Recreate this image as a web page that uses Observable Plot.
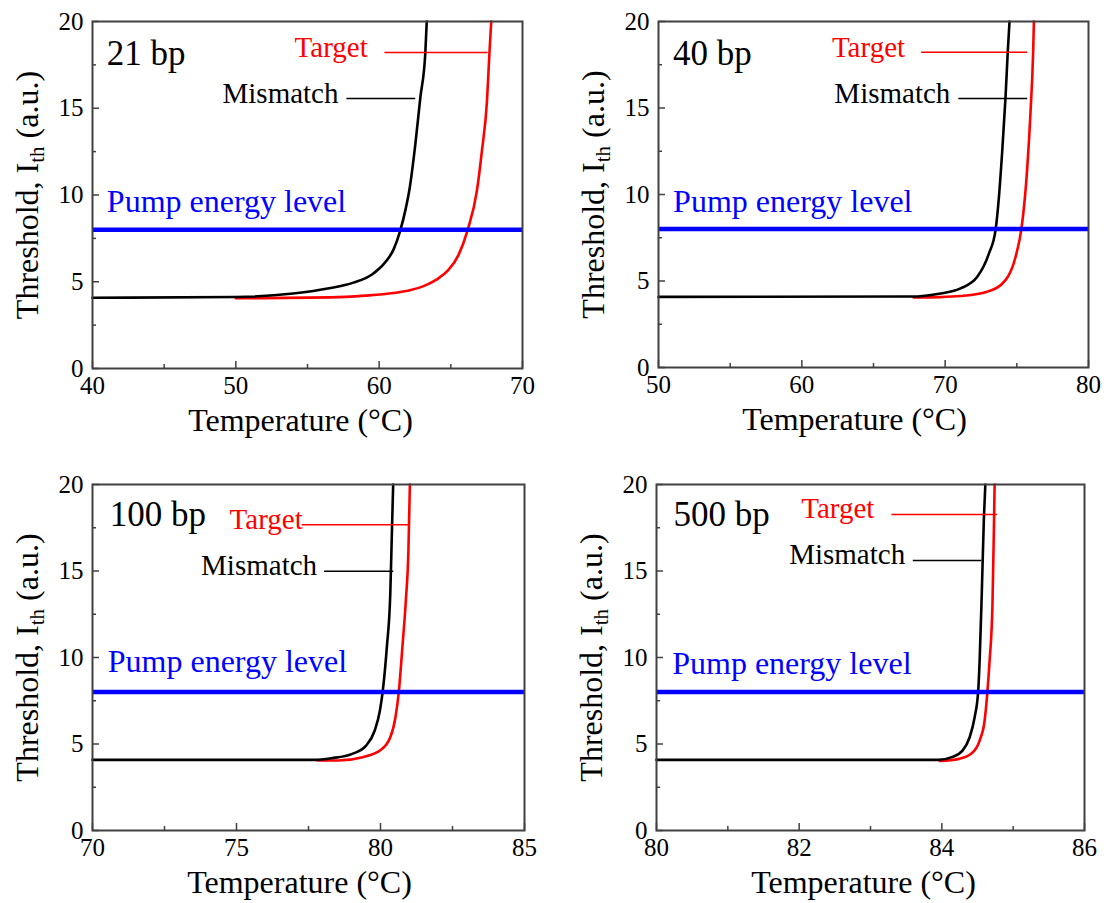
<!DOCTYPE html>
<html>
<head>
<meta charset="utf-8">
<script src="https://cdn.jsdelivr.net/npm/d3@7"></script>
<script src="https://cdn.jsdelivr.net/npm/@observablehq/plot@0.6"></script>
<style>
  html, body { margin: 0; padding: 0; background: #fff; }
  #wrap { position: relative; width: 1109px; height: 903px; background: #fff; overflow: hidden; }
  #wrap > div { position: absolute; }
  svg text, svg tspan { font-family: "Liberation Serif", "Times New Roman", serif !important; }
</style>
</head>
<body>
<div id="wrap"></div>
<script>
// ---------- data ----------
const panelLabels = ["21 bp", "40 bp", "100 bp", "500 bp"];
const xDomains = [[40, 70], [50, 80], [70, 85], [80, 86]];
const xMajorTicks = [[40, 50, 60, 70], [50, 60, 70, 80], [70, 75, 80, 85], [80, 82, 84, 86]];
const xMinorTicks = [[45, 55, 65], [55, 65, 75], [72.5, 77.5, 82.5], [81, 83, 85]];
const yMajorTicks = [0, 5, 10, 15, 20];
const yMinorTicks = [2.5, 7.5, 12.5, 17.5];
const pumpLevel = 8;

// Mismatch (black) and Target (red) threshold curves: temperature (°C) and threshold (a.u.)
const mm21T = [40, 50, 54, 56.5, 58.2, 59.5, 60.4, 61.0, 61.47, 61.85, 62.13, 62.52, 62.87, 63.22, 63.32];
const mm21I = [4.08, 4.12, 4.32, 4.62, 4.95, 5.42, 6.1, 6.85, 7.95, 9.2, 10.4, 12.9, 15.6, 18.2, 20];
const tg21T = [50, 56.6, 59, 61, 62.2, 63.1, 64, 64.8, 65.54, 66.17, 66.82, 67.17, 67.52, 67.7, 67.82];
const tg21I = [4.05, 4.1, 4.2, 4.35, 4.52, 4.75, 5.12, 5.65, 6.55, 7.98, 10.25, 12.55, 15.4, 18.3, 20];

const mm40T = [50, 67.59, 69.68, 71.07, 72.24, 73.05, 73.52, 73.75, 73.98, 74.21, 74.37, 74.49];
const mm40I = [4.08, 4.1, 4.28, 4.57, 5.24, 6.58, 7.97, 9.85, 12.5, 15.6, 18.3, 20];
const tg40T = [67.8, 69.68, 71.07, 72.93, 74.21, 74.91, 75.31, 75.45, 75.73, 75.96, 76.14, 76.19];
const tg40I = [4.05, 4.07, 4.13, 4.38, 5.05, 6.39, 7.97, 8.89, 11.58, 14.85, 18.3, 20];

const mm100T = [70, 77.7, 78.3, 79.02, 79.5, 79.8, 79.98, 80.08, 80.22, 80.34, 80.4, 80.44];
const mm100I = [4.08, 4.08, 4.18, 4.43, 4.91, 5.78, 6.94, 8.09, 10.6, 13.7, 17.5, 20];
const tg100T = [77.8, 78.54, 79.38, 79.98, 80.34, 80.52, 80.64, 80.76, 80.88, 80.97, 81.02];
const tg100I = [4.05, 4.05, 4.24, 4.62, 5.39, 6.55, 8.09, 10.6, 13.3, 16.2, 20];

const mm500T = [80, 83.95, 84.14, 84.29, 84.39, 84.46, 84.51, 84.53, 84.56, 84.59, 84.61];
const mm500I = [4.08, 4.08, 4.24, 4.62, 5.39, 6.55, 8.09, 9.83, 13.7, 18.1, 20];
const tg500T = [83.97, 84.24, 84.41, 84.53, 84.6, 84.64, 84.67, 84.71, 84.73, 84.74];
const tg500I = [4.02, 4.14, 4.43, 5.2, 6.36, 8.09, 9.83, 13.1, 17.5, 20];

const mismatchT = [mm21T, mm40T, mm100T, mm500T];
const mismatchI = [mm21I, mm40I, mm100I, mm500I];
const targetT = [tg21T, tg40T, tg100T, tg500T];
const targetI = [tg21I, tg40I, tg100I, tg500I];

// annotation anchor positions (data coordinates)
const labelPosT = [41.0, 51.02, 70.6, 80.24];
const labelPosI = [17.5, 17.5, 17.63, 17.63];
const pumpTextT = [41.0, 51.02, 70.53, 80.22];
const pumpTextI = [9.0, 9.0, 9.15, 9.06];
const targetTextT = [54.1, 62.1, 74.76, 82.03];
const targetTextI = [17.93, 17.92, 17.44, 18.07];
const targetLineT1 = [60.4, 68.36, 77.28, 83.30];
const targetLineT2 = [67.6, 75.76, 81.0, 84.78];
const targetLineI = [18.22, 18.22, 17.67, 18.27];
const mismatchTextT = [49.07, 62.27, 73.77, 81.86];
const mismatchTextI = [15.28, 15.29, 14.74, 15.41];
const mismatchLineT1 = [57.75, 70.95, 78.06, 83.6];
const mismatchLineT2 = [62.55, 75.76, 80.46, 84.56];
const mismatchLineI = [15.56, 15.55, 14.99, 15.61];

const xTitle = "Temperature (°C)";
const yTitle = "Threshold, Ith (a.u.)";
const targetText = "Target";
const mismatchText = "Mismatch";
const pumpText = "Pump energy level";

// ---------- layout ----------
const layout = [
  {left: 0,   top: 0,   width: 554, height: 451, mL: 92,  mR: 32, mT: 21, mB: 83, tdx: -7},
  {left: 554, top: 0,   width: 555, height: 451, mL: 104, mR: 21, mT: 21, mB: 84, tdx: -19},
  {left: 0,   top: 451, width: 554, height: 452, mL: 92,  mR: 30, mT: 33, mB: 73, tdx: -9},
  {left: 554, top: 451, width: 555, height: 452, mL: 102, mR: 25, mT: 33, mB: 73, tdx: -7}
];

const FRAME = "#404040";
const SERIF = "Liberation Serif";
const ns = "http://www.w3.org/2000/svg";
const wrap = document.getElementById("wrap");

function tspan(text, attrs = {}) {
  const t = document.createElementNS(ns, "tspan");
  t.textContent = text;
  for (const k in attrs) t.setAttribute(k, attrs[k]);
  return t;
}

layout.forEach((L, i) => {
  const plotW = L.width - L.mL - L.mR;
  const plotH = L.height - L.mT - L.mB;
  const mm = mismatchT[i].map((t, j) => ({T: t, I: mismatchI[i][j]}));
  const tg = targetT[i].map((t, j) => ({T: t, I: targetI[i][j]}));

  const chart = Plot.plot({
    width: L.width,
    height: L.height,
    marginLeft: L.mL, marginRight: L.mR, marginTop: L.mT, marginBottom: L.mB,
    style: {fontFamily: SERIF, fontSize: "25px", color: "#000", background: "transparent"},
    x: {domain: xDomains[i]},
    y: {domain: [0, 20]},
    marks: [
      Plot.axisX(xMajorTicks[i], {tickSize: 0, tickPadding: 8, label: null, fontSize: 25, fontFamily: SERIF, tickFormat: d => String(d)}),
      Plot.axisY(yMajorTicks, {tickSize: 0, tickPadding: 9, label: null, fontSize: 25, fontFamily: SERIF, tickFormat: d => String(d)}),
      // inward ticks
      Plot.tickX(xMajorTicks[i], {x: d => d, insetTop: plotH - 7, stroke: FRAME, strokeWidth: 1.5}),
      Plot.tickX(xMinorTicks[i], {x: d => d, insetTop: plotH - 4, stroke: FRAME, strokeWidth: 1.5}),
      Plot.tickY(yMajorTicks, {y: d => d, insetRight: plotW - 7, stroke: FRAME, strokeWidth: 1.5}),
      Plot.tickY(yMinorTicks, {y: d => d, insetRight: plotW - 4, stroke: FRAME, strokeWidth: 1.5}),
      // curves
      Plot.line(tg, {x: "T", y: "I", stroke: "#ff0000", strokeWidth: 2.6, curve: "monotone-x"}),
      Plot.line(mm, {x: "T", y: "I", stroke: "#000000", strokeWidth: 2.6, curve: "monotone-x"}),
      // pump level
      Plot.ruleY([pumpLevel], {stroke: "#0000ff", strokeWidth: 4.5}),
      // legend leader lines
      Plot.ruleY([targetLineI[i]], {x1: targetLineT1[i], x2: targetLineT2[i], stroke: "#ff0000", strokeWidth: 1.5}),
      Plot.ruleY([mismatchLineI[i]], {x1: mismatchLineT1[i], x2: mismatchLineT2[i], stroke: "#000000", strokeWidth: 1.5}),
      // texts
      Plot.text([panelLabels[i]], {x: labelPosT[i], y: labelPosI[i], text: d => d, textAnchor: "start", lineAnchor: "bottom", fontSize: 35, fill: "#000"}),
      Plot.text([pumpText], {x: pumpTextT[i], y: pumpTextI[i], text: d => d, textAnchor: "start", lineAnchor: "bottom", fontSize: 32, fill: "#0000ff"}),
      Plot.text([targetText], {x: targetTextT[i], y: targetTextI[i], text: d => d, textAnchor: "start", lineAnchor: "bottom", fontSize: 29, fill: "#ff0000"}),
      Plot.text([mismatchText], {x: mismatchTextT[i], y: mismatchTextI[i], text: d => d, textAnchor: "start", lineAnchor: "bottom", fontSize: 29, fill: "#000"}),
      // axis titles
      Plot.text([xTitle], {frameAnchor: "bottom", dy: 62, dx: L.tdx, text: d => d, textAnchor: "middle", lineAnchor: "bottom", fontSize: 32, fill: "#000"}),
      Plot.text([yTitle], {frameAnchor: "left", dx: -55, dy: 0, rotate: -90, text: d => d, textAnchor: "middle", lineAnchor: "bottom", fontSize: 32, fill: "#000", className: "ytitle"}),
      Plot.frame({stroke: FRAME, strokeWidth: 2})
    ]
  });

  chart.querySelectorAll("text").forEach(t => t.style.fontFamily = `"${SERIF}", serif`);

  // subscript "th" in the y title
  const yt = chart.querySelector(".ytitle text");
  if (yt) {
    yt.textContent = "";
    yt.append(
      tspan("Threshold, I"),
      tspan("th", {"font-size": "21", dy: "6"}),
      tspan(" (a.u.)", {dy: "-6"})
    );
  }

  const box = document.createElement("div");
  box.style.left = L.left + "px";
  box.style.top = L.top + "px";
  box.appendChild(chart);
  wrap.appendChild(box);
});
</script>
</body>
</html>
